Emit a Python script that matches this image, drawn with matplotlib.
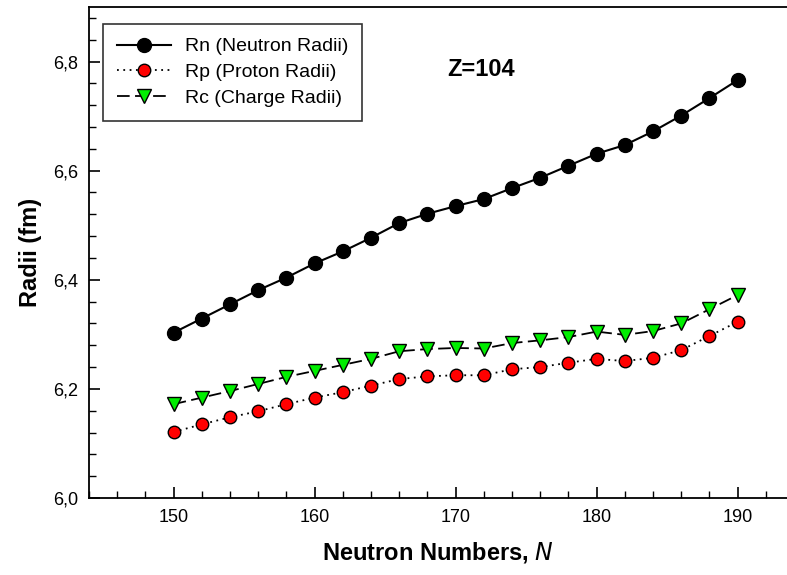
import matplotlib
matplotlib.use("Agg")
import matplotlib.pyplot as plt
from matplotlib.ticker import FuncFormatter, MultipleLocator

plt.rcParams["font.family"] = ["Liberation Sans", "DejaVu Sans"]

# Neutron numbers
neutron_n = [150, 152, 154, 156, 158, 160, 162, 164, 166, 168, 170,
             172, 174, 176, 178, 180, 182, 184, 186, 188, 190]

# Radii (fm)
rn = [6.303, 6.329, 6.355, 6.381, 6.404, 6.430, 6.452, 6.477, 6.504, 6.521, 6.535,
      6.548, 6.568, 6.587, 6.609, 6.631, 6.647, 6.672, 6.701, 6.733, 6.766]
rp = [6.121, 6.135, 6.148, 6.159, 6.172, 6.184, 6.194, 6.206, 6.218, 6.223, 6.225,
      6.225, 6.236, 6.240, 6.248, 6.255, 6.251, 6.257, 6.271, 6.297, 6.323]
rc = [6.172, 6.184, 6.196, 6.209, 6.222, 6.233, 6.244, 6.255, 6.269, 6.273, 6.275,
      6.274, 6.284, 6.289, 6.295, 6.305, 6.299, 6.306, 6.320, 6.346, 6.372]

fig = plt.figure(figsize=(7.87, 5.75), dpi=100)
ax = fig.add_axes([89 / 787, 77 / 575, 698 / 787, 491 / 575])

ax.plot(neutron_n, rn, color="black", lw=1.5, marker="o", ms=10,
        mfc="black", mec="black", label="Rn (Neutron Radii)")
ax.plot(neutron_n, rp, color="black", lw=1.3, ls=(0, (1, 2.5)), marker="o", ms=9,
        mfc="#ff0000", mec="black", mew=1.0, label="Rp (Proton Radii)")
ax.plot(neutron_n, rc, color="black", lw=1.3, ls=(0, (7, 3)), marker="v", ms=9.5,
        mfc="#00ee00", mec="black", mew=1.0, label="Rc (Charge Radii)")

ax.set_xlim(144, 193.5)
ax.set_ylim(6.0, 6.9)

ax.spines["right"].set_visible(False)
for s in ("left", "bottom", "top"):
    ax.spines[s].set_linewidth(1.3)

ax.xaxis.set_major_locator(MultipleLocator(10))
ax.xaxis.set_minor_locator(MultipleLocator(2))
ax.yaxis.set_major_locator(MultipleLocator(0.2))
ax.yaxis.set_minor_locator(MultipleLocator(0.04))
ax.yaxis.set_major_formatter(FuncFormatter(lambda v, _: f"{v:.1f}".replace(".", ",")))
ax.tick_params(which="both", direction="in", top=False, right=False, labelsize=13)
ax.tick_params(which="major", length=8, width=1.2, pad=8)
ax.tick_params(which="minor", length=5, width=1.0)

ax.set_xlabel("Neutron Numbers, $\\mathit{N}$", fontsize=17, fontweight="bold", labelpad=10)
ax.set_ylabel("Radii (fm)", fontsize=17, fontweight="bold", labelpad=8)

fig.text(481 / 787, 1 - 70 / 575, "Z=104", fontsize=17,
         fontweight="bold", ha="center", va="center")

leg = ax.legend(loc="upper left", bbox_to_anchor=(0.02, 0.965), borderaxespad=0,
                fontsize=14, frameon=True, fancybox=False, edgecolor="black",
                handlelength=2.8, handletextpad=0.7, borderpad=0.7,
                labelspacing=0.42)
leg.get_frame().set_linewidth(1.2)

fig.savefig("out.png", dpi=100)
